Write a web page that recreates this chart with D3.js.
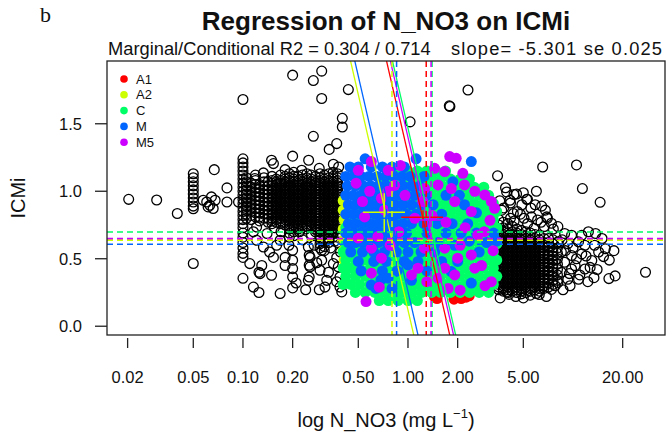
<!DOCTYPE html>
<html>
<head>
<meta charset="utf-8">
<script src="https://cdn.jsdelivr.net/npm/d3@7"></script>
<style>
  html, body { margin: 0; padding: 0; background: #fff; }
  svg { display: block; font-family: "Liberation Sans", Arial, sans-serif; }
</style>
</head>
<body>
<svg id="chart" width="667" height="435"></svg>
<script>
// ---- axis ticks ----
const xTicks = [0.02, 0.05, 0.1, 0.2, 0.5, 1, 2, 5, 20];
const xTickLabels = ["0.02", "0.05", "0.10", "0.20", "0.50", "1.00", "2.00", "5.00", "20.00"];
const yTicks = [0, 0.5, 1, 1.5];
const yTickLabels = ["0.0", "0.5", "1.0", "1.5"];

// ---- groups ----
const groups = ["A1", "A2", "C", "M", "M5"];
const groupColors = ["#FF0000", "#CCFF00", "#00FF66", "#0066FF", "#CC00FF"];
const slope = -5.301;                                  // common slope per log10 unit
const intercepts = [1.276, 0.12, 1.467, 0.257, 1.40];  // group intercepts
const meanN = [1.29, 0.80, 1.40, 0.853, 1.38];         // group mean N_NO3 (mg/L)
const meanICMi = [0.648, 0.637, 0.699, 0.608, 0.650];  // group mean ICMi
// crosses: [group, xLow, xHigh, xCentre, yLow, yHigh, yCentre]
const crosses = [
  [1, 0.533, 0.959, 0.718, 0.696, 0.985, 0.844],
  [3, 0.62, 0.88, 0.74, 0.74, 0.87, 0.80],
  [0, 0.911, 1.63, 1.233, 0.73, 0.86, 0.807],
  [2, 1.07, 1.96, 1.45, 0.57, 0.66, 0.615],
  [4, 1.15, 1.75, 1.354, 0.676, 0.874, 0.787]
];

// ---- all samples (open circles): scattered points [N_NO3, ICMi] ----
const allScatter = [
  [0.0203,0.94],[0.030,0.935],[0.040,0.835],[0.050,0.465],
  [0.0574,0.933],[0.0603,0.92],[0.0615,0.884],[0.063,0.896],[0.0644,0.958],[0.066,0.872],[0.0678,0.933],
  [0.067,1.16],[0.080,1.025],[0.080,0.92],[0.094,0.92],
  [0.1,1.68],[0.2,1.86],[0.267,1.82],[0.30,1.89],[0.30,1.687],[0.435,1.753],[1.03,1.514],
  [1.78,1.633],[1.795,1.628],[2.31,1.75],[0.40,1.54],[0.40,1.476],[0.267,1.407],[0.37,1.353],
  [0.333,1.31],[0.2,1.26],[0.149,1.23],[0.25,1.23],[0.153,1.205],[0.227,1.156],[0.133,1.136],
  [0.118,1.094],[0.353,1.2],[0.29,1.17],[0.18,1.16],[0.38,1.18],
  [0.1,0.355],[0.1157,0.29],[0.125,0.25],[0.168,0.242],[0.149,0.378],[0.125,0.40],[0.11,0.464],
  [0.2,0.284],[0.249,0.34],[0.255,0.44],[0.255,0.51],[0.322,0.34],[0.293,0.415],[0.387,0.29],
  [0.387,0.365],[0.153,0.51],[0.18,0.51],[0.133,0.587],[0.14,0.687],[0.121,0.735],[0.1157,0.70],
  [0.121,0.637],[0.168,0.637],[0.127,0.39],[0.2,0.563],[0.2,0.489],[0.2,0.427],[0.2,0.365],
  [0.249,0.587],[0.252,0.526],[0.252,0.452],[0.252,0.365],[0.307,0.637],[0.30,0.563],[0.30,0.489],
  [0.314,0.29],[0.37,0.51],[0.378,0.44],[0.397,0.254],[0.353,0.464],[0.16,0.60],[0.145,0.55],
  [0.19,0.60],[0.23,0.64],[0.27,0.60],[0.28,0.47],[0.34,0.58],[0.36,0.63],[0.33,0.40],[0.37,0.33],
  [0.21,0.32],[0.24,0.27],[0.29,0.27],[0.18,0.45],[0.13,0.45],[0.22,0.70],[0.26,0.68],[0.35,0.70],
  [0.39,0.55],[0.17,0.70],[0.155,0.73],[0.24,0.72],[0.28,0.71],
  [3.49,1.114],[6.55,1.18],[10.5,1.195],[11.4,1.02],[14.6,0.918],[6.46,0.89],[27.5,0.40],
  [16.5,0.353],[18.0,0.373],[13.4,0.36],[17.7,0.56],[16.6,0.49],[15.3,0.516],
  [3.9,1.026],[4.39,0.976],[5.0,0.989],[6.0,1.0],[5.3,0.94],[7.0,0.80],[7.4,0.763],[8.9,0.687],
  [9.8,0.674],[11.3,0.674],[12.4,0.70],[13.7,0.687],[15.0,0.65],[15.7,0.574],[13.0,0.487],
  [12.7,0.436],[10.8,0.348],[9.8,0.424],[4.18,0.913],[4.6,0.85],[5.55,0.876],[5.05,0.80],
  [6.1,0.787],[4.18,0.80],[3.8,0.876],[5.8,0.725],[6.7,0.738],[8.1,0.738],[8.1,0.625],[9.3,0.612],
  [10.8,0.625],[11.8,0.60],[8.5,0.55],[9.8,0.524],[11.3,0.536],[8.9,0.474],[10.3,0.449],
  [11.8,0.424],[8.5,0.40],[9.3,0.348],[8.1,0.323],[7.4,0.273],[3.96,0.254],[5.0,0.21],
  [6.25,0.235],[6.9,0.22],[4.1,0.236],[6.0,0.242],[3.7,0.86],[4.35,0.835],[3.96,0.995],
  [4.55,0.98],[5.24,0.94],[4.15,0.933],[6.93,0.81],[9.0,0.56],[10.0,0.58],[12.0,0.52],
  [13.5,0.60],[14.3,0.55],[10.5,0.50],[9.5,0.39],[11.0,0.38],[7.8,0.30],[8.7,0.27],[12.3,0.33],
  [14.0,0.42],[4.8,0.83],[5.6,0.81],[6.4,0.77],[3.6,0.93],[4.9,0.90],[6.8,0.86],[5.9,0.90],
  [4.4,0.78],[5.3,0.76],[3.62,0.21],[4.5,0.22],[5.5,0.23],[7.6,0.72],[8.6,0.64],[9.6,0.30]
];

// ---- all samples: stacked columns [N_NO3, ICMi, ICMi, ...] ----
const allColumns = [
  [0.05, 1.13,1.10,1.07,1.04,1.01,0.98,0.95,0.92,0.89,0.87],
  [0.1, 1.24,1.21,1.18,1.15,1.12,1.09,1.06,1.03,1.0,0.97,0.94,0.91,0.88,0.85,0.82,0.79,0.76,0.73,0.69,0.66,0.62,0.58,0.54,0.51],
  [0.105, 0.80,0.83,0.86,0.89,0.92,0.95,0.98,1.01,1.04,1.07,1.10],
  [0.112, 0.79,0.82,0.85,0.88,0.91,0.94,0.97,1.00,1.03,1.06],
  [0.119, 0.81,0.84,0.87,0.90,0.93,0.96,0.99,1.02,1.05,1.08,1.12],
  [0.126, 0.78,0.81,0.84,0.87,0.90,0.93,0.96,0.99,1.02,1.05],
  [0.134, 0.80,0.83,0.86,0.89,0.92,0.95,0.98,1.01,1.04,1.07,1.10],
  [0.142, 0.77,0.80,0.83,0.86,0.89,0.92,0.95,0.98,1.01,1.04,1.07],
  [0.150, 0.76,0.78,0.80,0.82,0.84,0.86,0.88,0.90,0.92,0.94,0.96,0.98,1.00,1.02,1.04,1.06,1.08,1.11],
  [0.159, 0.77,0.79,0.81,0.83,0.85,0.87,0.89,0.91,0.93,0.95,0.97,0.99,1.01,1.03,1.05,1.07,1.09],
  [0.169, 0.76,0.78,0.80,0.82,0.84,0.86,0.88,0.90,0.92,0.94,0.96,0.98,1.00,1.02,1.04,1.06,1.08,1.12],
  [0.180, 0.75,0.77,0.79,0.81,0.83,0.85,0.87,0.89,0.91,0.93,0.95,0.97,0.99,1.01,1.03,1.05,1.07,1.09,1.11],
  [0.191, 0.66,0.69,0.72,0.74,0.76,0.78,0.80,0.82,0.84,0.86,0.88,0.90,0.92,0.94,0.96,0.98,1.00,1.02,1.04,1.06,1.08,1.10,1.13],
  [0.203, 0.67,0.70,0.73,0.75,0.77,0.79,0.81,0.83,0.85,0.87,0.89,0.91,0.93,0.95,0.97,0.99,1.01,1.03,1.05,1.07,1.09,1.11,1.14],
  [0.216, 0.72,0.74,0.76,0.78,0.80,0.82,0.84,0.86,0.88,0.90,0.92,0.94,0.96,0.98,1.00,1.02,1.04,1.06,1.08,1.11],
  [0.229, 0.73,0.75,0.77,0.79,0.81,0.83,0.85,0.87,0.89,0.91,0.93,0.95,0.97,0.99,1.01,1.03,1.05,1.07,1.09,1.12],
  [0.244, 0.74,0.76,0.78,0.80,0.82,0.84,0.86,0.88,0.90,0.92,0.94,0.96,0.98,1.00,1.02,1.04,1.06,1.08,1.10,1.13],
  [0.259, 0.73,0.75,0.77,0.79,0.81,0.83,0.85,0.87,0.89,0.91,0.93,0.95,0.97,0.99,1.01,1.03,1.05,1.07,1.09,1.12],
  [0.275, 0.70,0.72,0.74,0.76,0.78,0.80,0.82,0.84,0.86,0.88,0.90,0.92,0.94,0.96,0.98,1.00,1.02,1.04,1.06,1.08,1.11],
  [0.293, 0.58,0.61,0.64,0.67,0.70,0.72,0.74,0.76,0.78,0.80,0.82,0.84,0.86,0.88,0.90,0.92,0.94,0.96,0.98,1.00,1.02,1.04,1.06,1.08,1.10,1.13],
  [0.311, 0.56,0.59,0.62,0.65,0.68,0.71,0.73,0.75,0.77,0.79,0.81,0.83,0.85,0.87,0.89,0.91,0.93,0.95,0.97,0.99,1.01,1.03,1.05,1.07,1.09,1.12],
  [0.331, 0.62,0.65,0.68,0.70,0.72,0.74,0.76,0.78,0.80,0.82,0.84,0.86,0.88,0.90,0.92,0.94,0.96,0.98,1.00,1.02,1.04,1.06,1.08,1.10,1.13],
  [0.352, 0.66,0.69,0.71,0.73,0.75,0.77,0.79,0.81,0.83,0.85,0.87,0.89,0.91,0.93,0.95,0.97,0.99,1.01,1.03,1.05,1.07,1.09,1.11,1.14],
  [0.374, 0.62,0.66,0.69,0.72,0.74,0.76,0.78,0.80,0.82,0.84,0.86,0.88,0.90,0.92,0.94,0.96,0.98,1.00,1.02,1.04,1.06,1.08,1.10,1.13],
  [3.55, 0.27,0.29,0.31,0.33,0.35,0.37,0.39,0.41,0.43,0.45,0.47,0.49,0.51,0.53,0.55,0.57,0.59,0.61,0.63,0.65,0.67,0.69,0.72,0.75,0.79],
  [3.78, 0.26,0.28,0.30,0.32,0.34,0.36,0.38,0.40,0.42,0.44,0.46,0.48,0.50,0.52,0.54,0.56,0.58,0.60,0.62,0.64,0.66,0.68,0.70,0.73,0.77],
  [4.03, 0.25,0.27,0.29,0.31,0.33,0.35,0.37,0.39,0.41,0.43,0.45,0.47,0.49,0.51,0.53,0.55,0.57,0.59,0.61,0.63,0.65,0.67,0.69,0.72,0.76],
  [4.29, 0.26,0.28,0.30,0.32,0.34,0.36,0.38,0.40,0.42,0.44,0.46,0.48,0.50,0.52,0.54,0.56,0.58,0.60,0.62,0.64,0.66,0.68,0.70,0.74],
  [4.57, 0.25,0.27,0.29,0.31,0.33,0.35,0.37,0.39,0.41,0.43,0.45,0.47,0.49,0.51,0.53,0.55,0.57,0.59,0.61,0.63,0.65,0.67,0.69,0.72],
  [4.87, 0.24,0.26,0.28,0.30,0.32,0.34,0.36,0.38,0.40,0.42,0.44,0.46,0.48,0.50,0.52,0.54,0.56,0.58,0.60,0.62,0.64,0.66,0.68,0.71],
  [5.18, 0.25,0.27,0.29,0.31,0.33,0.35,0.37,0.39,0.41,0.43,0.45,0.47,0.49,0.51,0.53,0.55,0.57,0.59,0.61,0.63,0.65,0.67,0.70],
  [5.52, 0.26,0.28,0.30,0.32,0.34,0.36,0.38,0.40,0.42,0.44,0.46,0.48,0.50,0.52,0.54,0.56,0.58,0.60,0.62,0.64,0.66,0.69],
  [5.88, 0.27,0.29,0.31,0.33,0.35,0.37,0.39,0.41,0.43,0.45,0.47,0.49,0.51,0.53,0.55,0.57,0.59,0.61,0.63,0.65,0.68],
  [6.26, 0.26,0.28,0.30,0.32,0.34,0.36,0.38,0.40,0.42,0.44,0.46,0.48,0.50,0.52,0.54,0.56,0.58,0.60,0.62,0.64,0.67],
  [6.67, 0.28,0.30,0.32,0.34,0.36,0.38,0.40,0.42,0.44,0.46,0.48,0.50,0.52,0.54,0.56,0.58,0.60,0.62,0.65],
  [7.10, 0.29,0.32,0.35,0.38,0.41,0.44,0.47,0.50,0.53,0.56,0.59,0.62,0.65],
  [7.56, 0.31,0.34,0.37,0.40,0.43,0.46,0.49,0.52,0.55,0.58,0.61,0.64],
  [8.05, 0.34,0.38,0.42,0.46,0.50,0.54,0.58,0.62]
];

// ---- grouped samples (filled circles) ----
const ptsA1 = [
  [1.45,0.215],[1.50,0.205],[1.90,0.20],[2.10,0.205],[2.25,0.215],[2.35,0.225],
  [1.2,0.6],[1.3,0.8],[0.9,0.7],[1.6,0.5],[2.5,0.85],[2.80,0.85]
];
const ptsA2 = [
  [0.405,0.93],[0.405,0.86],[0.41,0.79],[0.405,0.72],[0.41,0.64],[0.405,0.56],[0.41,0.49],
  [0.9,0.85],[0.75,0.6],[2.88,0.835]
];
// C: rows of [ICMi, N_NO3, N_NO3, ...]
const rowsC = [
  [1.15, 0.87,1.0,1.14,1.3,1.48,1.69],
  [1.09, 0.72,0.82,0.93,1.06,1.21,1.39,1.58,1.81,2.07,2.36],
  [1.03, 0.59,0.67,0.76,0.87,1.0,1.14,1.3,1.48,1.69,1.93,2.21,2.52,2.88],
  [0.97, 0.55,0.63,0.72,0.82,0.93,1.06,1.21,1.39,1.58,1.81,2.07,2.36,2.7,3.08],
  [0.91, 0.51,0.59,0.67,0.76,0.87,1.0,1.14,1.3,1.48,1.69,1.93,2.21,2.52,2.88,3.29],
  [0.85, 0.48,0.55,0.63,0.72,0.82,0.93,1.06,1.21,1.39,1.58,1.81,2.07,2.36,2.7,3.08,3.45],
  [0.79, 0.45,0.51,0.59,0.67,0.76,0.87,1.0,1.14,1.3,1.48,1.69,1.93,2.21,2.52,2.88,3.29],
  [0.73, 0.42,0.48,0.55,0.63,0.72,0.82,0.93,1.06,1.21,1.39,1.58,1.81,2.07,2.36,2.7,3.08,3.45],
  [0.67, 0.45,0.51,0.59,0.67,0.76,0.87,1.0,1.14,1.3,1.48,1.69,1.93,2.21,2.52,2.88,3.29],
  [0.61, 0.42,0.48,0.55,0.63,0.72,0.82,0.93,1.06,1.21,1.39,1.58,1.81,2.07,2.36,2.7,3.08,3.45],
  [0.55, 0.405,0.45,0.51,0.59,0.67,0.76,0.87,1.0,1.14,1.3,1.48,1.69,1.93,2.21,2.52,2.88,3.29],
  [0.49, 0.42,0.48,0.55,0.63,0.72,0.82,0.93,1.06,1.21,1.39,1.58,1.81,2.07,2.36,2.7,3.08,3.45],
  [0.43, 0.405,0.45,0.51,0.59,0.67,0.76,0.87,1.0,1.14,1.3,1.48,1.69,1.93,2.21,2.52,2.88,3.29],
  [0.37, 0.42,0.48,0.55,0.63,0.72,0.82,0.93,1.06,1.21,1.39,1.58,1.81,2.07,2.36,2.7,3.08,3.45],
  [0.31, 0.405,0.45,0.51,0.59,0.67,0.76,0.87,1.0,1.14,1.3,1.48,1.69,1.93,2.21,2.52,2.88,3.29],
  [0.25, 0.48,0.55,0.63,0.72,0.82,0.93,1.06,1.21,1.39,1.58,1.81,2.07,2.36,2.7,3.08],
  [0.19, 0.67,0.76,0.87,1.0,1.14]
];
const ptsM = [
  [0.55,1.24],[1.12,1.24],[2.42,1.22],
  [0.445,1.18],[0.50,1.18],[0.60,1.18],[0.70,1.18],[0.80,1.18],[0.95,1.18],
  [0.42,1.11],[0.465,1.11],[0.52,1.11],[0.58,1.11],[0.65,1.11],[0.73,1.11],[0.82,1.11],[0.92,1.11],[1.03,1.11],[1.25,1.11],
  [0.43,1.04],[0.48,1.04],[0.535,1.04],[0.595,1.04],[0.66,1.04],[0.74,1.04],[0.83,1.04],[0.93,1.04],[1.05,1.04],[1.18,1.04],[1.87,1.07],
  [0.42,0.97],[0.465,0.97],[0.515,0.97],[0.57,0.97],[0.63,0.97],[0.70,0.97],[0.78,0.97],[0.87,0.97],[0.98,0.97],[1.1,0.97],[1.3,0.97],[1.7,0.97],[2.05,0.97],
  [0.435,0.90],[0.48,0.90],[0.535,0.90],[0.595,0.90],[0.66,0.90],[0.74,0.90],[0.83,0.90],[0.93,0.90],[1.05,0.90],[1.2,0.90],[1.42,0.90],[2.2,0.90],
  [0.42,0.83],[0.465,0.83],[0.515,0.83],[0.57,0.83],[0.63,0.83],[0.70,0.83],[0.78,0.83],[0.87,0.83],[0.98,0.83],[1.12,0.83],[1.6,0.83],[2.6,0.84],
  [0.435,0.76],[0.48,0.76],[0.535,0.76],[0.595,0.76],[0.66,0.76],[0.74,0.76],[0.83,0.76],[0.93,0.76],[1.05,0.76],[1.25,0.76],[1.5,0.76],[1.85,0.76],[2.3,0.76],
  [0.42,0.69],[0.465,0.69],[0.515,0.69],[0.57,0.69],[0.63,0.69],[0.70,0.69],[0.78,0.69],[0.87,0.69],[0.98,0.69],[1.3,0.69],[1.7,0.69],[2.1,0.69],[2.6,0.69],[3.3,0.69],
  [0.435,0.62],[0.48,0.62],[0.535,0.62],[0.595,0.62],[0.66,0.62],[0.74,0.62],[0.83,0.62],[0.95,0.62],[1.1,0.62],[1.52,0.62],[1.92,0.60],[2.35,0.63],[3.0,0.62],[3.45,0.63],
  [0.45,0.55],[0.53,0.55],[0.62,0.55],[0.72,0.55],[0.85,0.55],[1.0,0.55],[1.2,0.55],[1.45,0.55],[2.7,0.55],
  [0.50,0.48],[0.62,0.48],[0.74,0.48],[0.95,0.48],[1.15,0.48],[1.6,0.48],[2.0,0.48],
  [0.52,0.41],[0.70,0.41],[0.86,0.41],[1.3,0.41],[1.83,0.405],
  [0.60,0.306],[0.686,0.343],[0.757,0.356],[1.0,0.455],[2.42,0.32],[1.05,0.34],
  [0.64,0.28],[0.80,0.28]
];
const ptsM5 = [
  [0.50,1.155],[0.60,1.22],[0.485,1.06],[0.586,1.0],[0.53,0.924],[0.69,0.948],[0.757,1.0],[0.76,1.155],
  [0.546,0.81],[0.90,1.19],[0.83,1.044],[0.72,0.86],[0.96,0.97],
  [0.50,0.652],[0.658,0.664],[0.60,0.578],[0.78,0.60],[0.69,0.504],[0.60,0.393],[0.557,0.183],[0.67,0.289],[0.88,0.70],
  [1.05,0.38],[1.15,0.43],[1.67,0.43],[2.0,0.504],[2.42,0.528],[1.92,0.38],[2.54,0.43],[3.2,0.33],[1.52,0.356],
  [1.26,0.578],[1.67,0.578],[2.65,0.676],[1.75,0.28],[2.07,0.267],[2.93,0.30],[3.28,0.56],[1.3,0.33],[2.79,0.45],
  [1.52,1.047],[1.26,1.02],[1.83,1.02],[2.2,1.047],[2.54,1.0],[2.92,0.973],[3.2,0.924],[3.35,0.874],[2.42,0.85],
  [1.92,0.924],[1.23,0.924],[1.45,1.17],[1.67,1.146],[2.15,1.133],[1.79,1.257],[1.96,1.244],[1.40,0.82],[1.70,0.77],
  [2.22,0.73],[2.07,0.60],[3.14,0.785],[1.1,0.80],[2.9,0.70]
];

// ---- layout ----
const svg = d3.select("#chart");
const plot = { left: 107, right: 665, top: 61, bottom: 335 };
const x = d3.scaleLog().domain([0.015, 36.1]).range([plot.left, plot.right]);
const y = d3.scaleLinear().domain([-0.065, 1.965]).range([plot.bottom, plot.top]);

svg.append("defs").append("clipPath").attr("id", "plotClip")
  .append("rect").attr("x", plot.left).attr("y", plot.top)
  .attr("width", plot.right - plot.left).attr("height", plot.bottom - plot.top);

const g = svg.append("g").attr("clip-path", "url(#plotClip)");

// open circles: every sample
const openPts = allScatter.concat(allColumns.flatMap(c => c.slice(1).map(v => [c[0], v])));
g.append("g").selectAll("circle").data(openPts).join("circle")
  .attr("cx", d => x(d[0])).attr("cy", d => y(d[1])).attr("r", 4.9)
  .attr("fill", "none").attr("stroke", "#000").attr("stroke-width", 1.3);

// filled circles by group
const ptsC = rowsC.flatMap(r => r.slice(1).map(v => [v, r[0]]));
const groupPts = [ptsA1, ptsA2, ptsC, ptsM, ptsM5];
groupPts.forEach((pts, i) => {
  g.append("g").selectAll("circle").data(pts).join("circle")
    .attr("cx", d => x(d[0])).attr("cy", d => y(d[1])).attr("r", 5.5)
    .attr("fill", groupColors[i]);
});

// group regression lines (common slope)
const [x0, x1] = x.domain();
groups.forEach((grp, i) => {
  const f = v => intercepts[i] + slope * Math.log10(v);
  g.append("line")
    .attr("x1", x(x0)).attr("y1", y(f(x0)))
    .attr("x2", x(x1)).attr("y2", y(f(x1)))
    .attr("stroke", groupColors[i]).attr("stroke-width", 1.3);
});

// group means as dashed reference lines
groups.forEach((grp, i) => {
  g.append("line")
    .attr("x1", x(meanN[i])).attr("x2", x(meanN[i]))
    .attr("y1", plot.top).attr("y2", plot.bottom)
    .attr("stroke", groupColors[i]).attr("stroke-width", 1.5).attr("stroke-dasharray", "6,4");
});
groups.forEach((grp, i) => {
  g.append("line")
    .attr("x1", plot.left).attr("x2", plot.right)
    .attr("y1", y(meanICMi[i])).attr("y2", y(meanICMi[i]))
    .attr("stroke", groupColors[i]).attr("stroke-width", 1.5).attr("stroke-dasharray", "6,4");
});

// crosses
crosses.forEach(c => {
  const col = groupColors[c[0]];
  g.append("line").attr("x1", x(c[1])).attr("x2", x(c[2])).attr("y1", y(c[6])).attr("y2", y(c[6]))
    .attr("stroke", col).attr("stroke-width", 1.5);
  g.append("line").attr("x1", x(c[3])).attr("x2", x(c[3])).attr("y1", y(c[4])).attr("y2", y(c[5]))
    .attr("stroke", col).attr("stroke-width", 1.5);
});

// frame
svg.append("rect").attr("x", plot.left).attr("y", plot.top)
  .attr("width", plot.right - plot.left).attr("height", plot.bottom - plot.top)
  .attr("fill", "none").attr("stroke", "#222").attr("stroke-width", 1.3);

// x axis: ticks below the frame
const xa = svg.append("g");
xTicks.forEach((t, i) => {
  xa.append("line").attr("x1", x(t)).attr("x2", x(t)).attr("y1", 338).attr("y2", 348)
    .attr("stroke", "#222").attr("stroke-width", 1.3);
  xa.append("text").attr("x", x(t)).attr("y", 383).attr("text-anchor", "middle")
    .attr("font-size", 16.5).attr("fill", "#111").text(xTickLabels[i]);
});

// y axis
const ya = svg.append("g");
yTicks.forEach((t, i) => {
  ya.append("line").attr("x1", 95).attr("x2", plot.left).attr("y1", y(t)).attr("y2", y(t))
    .attr("stroke", "#222").attr("stroke-width", 1.3);
  ya.append("text").attr("x", 82).attr("y", y(t) + 6).attr("text-anchor", "end")
    .attr("font-size", 16.5).attr("fill", "#111").text(yTickLabels[i]);
});

// legend
const lg = svg.append("g");
groups.forEach((grp, i) => {
  const yy = 79 + i * 15.8;
  lg.append("circle").attr("cx", 124).attr("cy", yy).attr("r", 3.8).attr("fill", groupColors[i]);
  lg.append("text").attr("x", 136).attr("y", yy + 4.6).attr("font-size", 13).attr("fill", "#111").text(grp);
});

// titles
svg.append("text").attr("x", 386).attr("y", 30).attr("text-anchor", "middle")
  .attr("font-size", 26).attr("font-weight", "bold").attr("fill", "#111")
  .text("Regression of N_NO3 on ICMi");
svg.append("text").attr("x", 108).attr("y", 55).attr("font-size", 18.3).attr("fill", "#111")
  .text("Marginal/Conditional R2 = 0.304 / 0.714");
svg.append("text").attr("x", 662).attr("y", 55).attr("text-anchor", "end").attr("font-size", 18.3).attr("fill", "#111")
  .attr("textLength", 211).attr("lengthAdjust", "spacing")
  .text("slope= -5.301 se 0.025");
svg.append("text").attr("x", 40).attr("y", 22).attr("font-size", 22)
  .attr("font-family", "'Liberation Serif', 'Times New Roman', serif").attr("fill", "#111").text("b");

const xl = svg.append("text").attr("x", 386).attr("y", 427).attr("text-anchor", "middle")
  .attr("font-size", 20).attr("fill", "#111");
xl.append("tspan").text("log N_NO3 (mg L");
xl.append("tspan").attr("font-size", 13).attr("dy", -9).text("\u22121");
xl.append("tspan").attr("dy", 9).text(")");

svg.append("text").attr("transform", "translate(25,198) rotate(-90)").attr("text-anchor", "middle")
  .attr("font-size", 20).attr("fill", "#111").text("ICMi");
</script>
</body>
</html>
